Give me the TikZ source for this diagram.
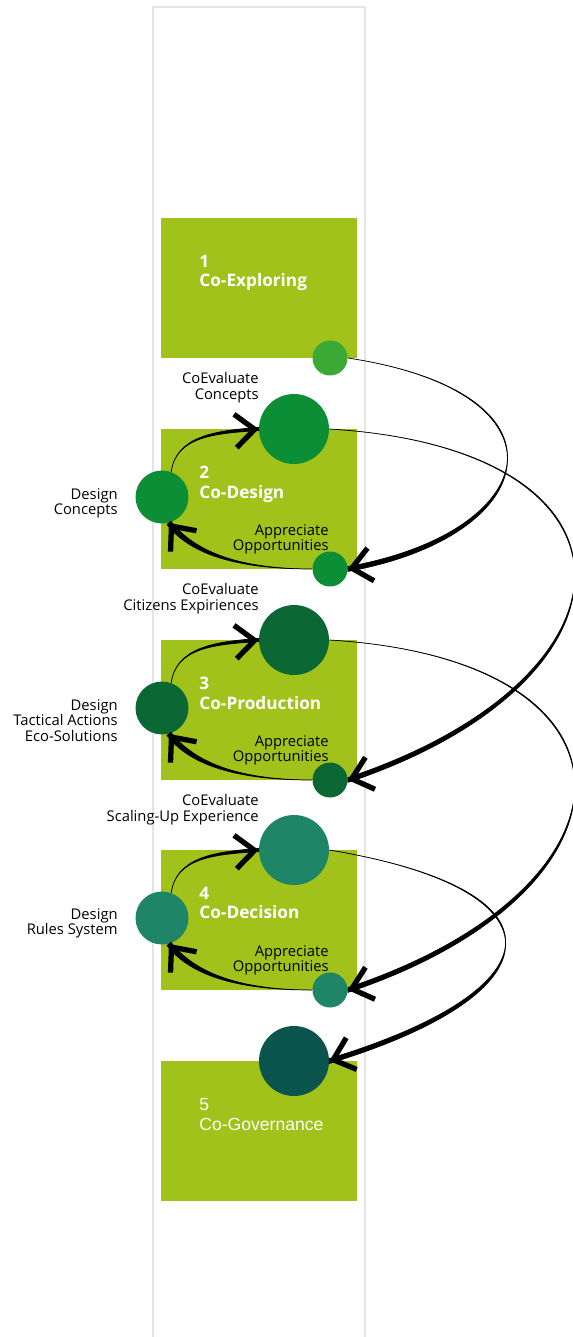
\documentclass[tikz,border=0pt]{standalone}
\usepackage{fontspec}
\setmainfont{Open Sans}
\newfontfamily\govfont{Liberation Sans}
\usetikzlibrary{arrows.meta}
\definecolor{stagegreen}{RGB}{160,194,26}
\definecolor{exgreen}{RGB}{59,170,53}
\definecolor{dsgreen}{RGB}{11,142,54}
\definecolor{prgreen}{RGB}{11,104,53}
\definecolor{dcgreen}{RGB}{31,133,103}
\definecolor{gvgreen}{RGB}{12,84,78}
\definecolor{stripgray}{RGB}{228,228,228}
\newcommand\flow[7]{%
	\filldraw[flowline] (#1) .. controls +(#3) and +(#4) .. ([shift={(#5)}]#2)
		-- ([shift={(#6)}]#2) .. controls +(#4) and +(#3) .. (#1);
	\draw[flowtip] ([shift={(#7)}]#2) -- (#2);}
\begin{document}
\begin{tikzpicture}[x=0.02cm,y=-0.02cm,
		stage/.style={fill=stagegreen,minimum width=3.92cm,minimum height=2.8cm,inner sep=0},
		dot/.style={circle,inner sep=0,minimum size=#1},
		title/.style={anchor=north west,align=left,inner sep=0,text=white,font=\fontsize{9.8}{11}\selectfont\bfseries},
		lbl/.style={anchor=north east,align=right,inner sep=0,font=\fontsize{8.4}{8.8}\selectfont},
		flowline/.style={fill=black,draw=black,line width=0.4pt},
		flowtip/.style={line width=1.8pt,-{Straight Barb[length=11pt,width=19pt,line width=3pt]}}]
	\useasboundingbox (0,0) rectangle (572,1337);
	\draw[stripgray,line width=0.6pt] (153,1337) -- (153,7) -- (365,7) -- (365,1337);
	\node[stage] (s1) at (259,288) {};
	\node[stage] (s2) at (259,499) {};
	\node[stage] (s3) at (259,710) {};
	\node[stage] (s4) at (259,920) {};
	\node[stage] (s5) at (259,1131) {};
	\node[title] (t1) at (199,255) {1\\Co-Exploring};
	\node[title] (t2) at (199,466) {2\\Co-Design};
	\node[title] (t3) at (199,677) {3\\Co-Production};
	\node[title] (t4) at (199,887) {4\\Co-Decision};
	\node[title,font=\govfont\fontsize{10}{11.5}\selectfont] (t5) at (199,1098) {5\\Co-Governance};
	\node[dot=0.7cm,fill=exgreen] (ap1) at (330,358) {};
	\node[dot=1.4cm,fill=dsgreen] (ev2) at (294,429) {};
	\node[dot=1.06cm,fill=dsgreen] (ds2) at (162,497) {};
	\node[dot=0.7cm,fill=dsgreen] (ap2) at (330,569) {};
	\node[dot=1.4cm,fill=prgreen] (ev3) at (294,640) {};
	\node[dot=1.06cm,fill=prgreen] (ds3) at (162,708) {};
	\node[dot=0.7cm,fill=prgreen] (ap3) at (330,780) {};
	\node[dot=1.4cm,fill=dcgreen] (ev4) at (294,850) {};
	\node[dot=1.06cm,fill=dcgreen] (ds4) at (162,918) {};
	\node[dot=0.7cm,fill=dcgreen] (ap4) at (330,990) {};
	\node[dot=1.4cm,fill=gvgreen] (ev5) at (294,1061) {};
	\node[lbl] (e2) at (259,372) {CoEvaluate\\Concepts};
	\node[lbl] (d2) at (118,488) {Design\\Concepts};
	\node[lbl] (o2) at (329,524) {Appreciate\\Opportunities};
	\node[lbl] (e3) at (259,583) {CoEvaluate\\Citizens Expiriences};
	\node[lbl] (d3) at (118,699) {Design\\Tactical Actions\\Eco-Solutions};
	\node[lbl] (o3) at (329,735) {Appreciate\\Opportunities};
	\node[lbl] (e4) at (259,794) {CoEvaluate\\Scaling-Up Experience};
	\node[lbl] (d4) at (118,908) {Design\\Rules System};
	\node[lbl] (o4) at (329,945) {Appreciate\\Opportunities};
	\flow{ds2.70}{ev2.west}{5,-35}{-45,3}{0,1.5}{0,-1.5}{-6,0.5}
	\flow{ap2.west}{ds2.-75}{-70,0}{25,32}{1.9,-1.7}{-1.9,1.7}{4,5}
	\flow{ds3.70}{ev3.west}{5,-35}{-45,3}{0,1.5}{0,-1.5}{-6,0.5}
	\flow{ap3.west}{ds3.-75}{-70,0}{25,32}{1.9,-1.7}{-1.9,1.7}{4,5}
	\flow{ds4.70}{ev4.west}{5,-35}{-45,3}{0,1.5}{0,-1.5}{-6,0.5}
	\flow{ap4.west}{ds4.-75}{-70,0}{25,32}{1.9,-1.7}{-1.9,1.7}{4,5}
	\flow{ap1.east}{ap2.east}{230,35}{195,-35}{0,2.4}{0,-2.4}{6,-1.2}
	\flow{ev2.east}{ap3.east}{330,20}{300,-100}{0,2.4}{0,-2.4}{6,-1.8}
	\flow{ev3.east}{ap4.east}{330,20}{300,-100}{0,2.4}{0,-2.4}{6,-1.8}
	\flow{ev4.east}{ev5.east}{240,40}{230,-70}{0,2.4}{0,-2.4}{6,-2}
\end{tikzpicture}
\end{document}
